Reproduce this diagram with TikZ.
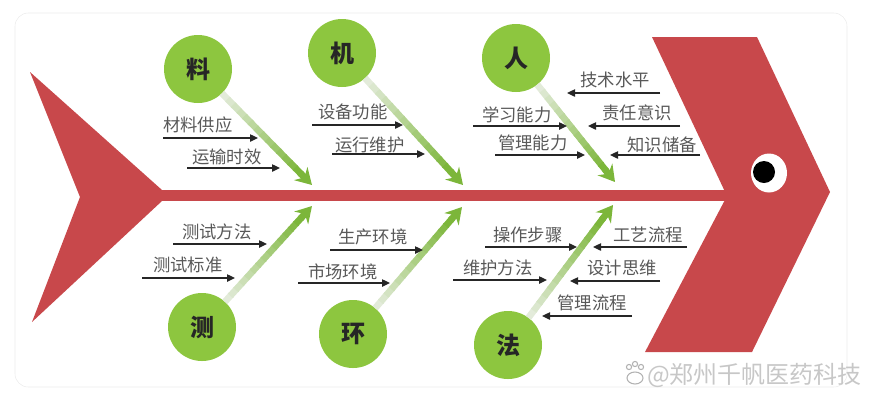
\documentclass[tikz,border=0pt]{standalone}
\usepackage{fontspec}
\setmainfont{Noto Sans CJK SC}
\usetikzlibrary{arrows.meta,calc}

\definecolor{fishred}{RGB}{200,72,75}
\definecolor{bonegreen}{RGB}{141,198,63}
\definecolor{arrowgreen}{RGB}{124,182,58}
\definecolor{palegreen}{RGB}{232,238,226}
\definecolor{lblgray}{RGB}{88,88,88}

\tikzset{
  bone/.style={circle, fill=bonegreen, minimum size=51pt, inner sep=0pt,
    font=\fontsize{18}{18}\selectfont\bfseries, text=black!85},
  lbl/.style={inner sep=0pt, font=\fontsize{13}{13}\selectfont, text=lblgray},
  sub/.style={draw=black!85, line width=1pt, -{Triangle[length=6pt,width=5.5pt]}},
}

% green bone arrow from a circle (#1) to a point on the spine (#2)
\newcommand{\bonearrow}[2]{%
  \coordinate (#1s) at ($(#1)!25.5pt!(#2)$);
  \foreach \k in {0,...,13}{
    \pgfmathsetmacro{\fa}{\k/16}
    \pgfmathsetmacro{\fb}{(\k+1.2)/16}
    \pgfmathtruncatemacro{\pc}{5+\k*95/13}
    \draw[line width=5pt, arrowgreen!\pc!palegreen] ($(#1s)!\fa!(#2)$) -- ($(#1s)!\fb!(#2)$);
  }
  \draw[line width=5pt, arrowgreen, -{Stealth[length=12pt,width=14pt,inset=4pt]}] ($(#1s)!0.87!(#2)$) -- (#2);
}

\begin{document}
\begin{tikzpicture}[x=0.75pt,y=0.75pt,yscale=-1,xscale=1]
\useasboundingbox (0,0) rectangle (873,405);

% frame
\draw[black!8, rounded corners=10pt] (15,13) rectangle (847,387);

% tail and spine
\fill[fishred] (30,72) -- (162,190) -- (162,201) -- (32,322) -- (80,197) -- cycle;
\fill[fishred] (150,190) rectangle (735,201);

% head
\fill[fishred] (652,37) -- (757,37) -- (830,192) -- (752,352) -- (645,352) -- (727,196) -- cycle;
\fill[white] (769,173) ellipse [x radius=18, y radius=19.5];
\fill[black] (764,172) circle [radius=11];

% bones
\node[bone] (liao) at (198,69) {料};
\node[bone] (ji) at (342,53) {机};
\node[bone] (ren) at (516,58) {人};
\node[bone] (ce) at (202,327) {测};
\node[bone] (huan) at (353,334) {环};
\node[bone] (fa) at (508,345) {法};

\coordinate (tliao) at (312,185);
\coordinate (tji) at (463,185);
\coordinate (tren) at (615,182);
\coordinate (tce) at (312,206);
\coordinate (thuan) at (462,207);
\coordinate (tfa) at (613,205);

\bonearrow{liao}{tliao}
\bonearrow{ji}{tji}
\bonearrow{ren}{tren}
\bonearrow{ce}{tce}
\bonearrow{huan}{thuan}
\bonearrow{fa}{tfa}

% causes of 料
\node[lbl, anchor=west] (cliao1) at (163,125) {材料供应};
\coordinate (cliao1a) at (163,138); \coordinate (cliao1b) at (258,138);
\draw[sub] (cliao1a) -- (cliao1b);
\node[lbl, anchor=west] (cliao2) at (192,157) {运输时效};
\coordinate (cliao2a) at (187,168); \coordinate (cliao2b) at (280,168);
\draw[sub] (cliao2a) -- (cliao2b);

% causes of 机
\node[lbl, anchor=west] (cji1) at (318,112) {设备功能};
\coordinate (cji1a) at (312,125); \coordinate (cji1b) at (403,125);
\draw[sub] (cji1a) -- (cji1b);
\node[lbl, anchor=west] (cji2) at (335,145) {运行维护};
\coordinate (cji2a) at (332,154); \coordinate (cji2b) at (425,154);
\draw[sub] (cji2a) -- (cji2b);

% causes of 人
\node[lbl, anchor=west] (cren1) at (482,115) {学习能力};
\coordinate (cren1a) at (473,126); \coordinate (cren1b) at (567,126);
\draw[sub] (cren1a) -- (cren1b);
\node[lbl, anchor=west] (cren2) at (498,143) {管理能力};
\coordinate (cren2a) at (495,155); \coordinate (cren2b) at (585,155);
\draw[sub] (cren2a) -- (cren2b);
\node[lbl, anchor=east] (cren3) at (650,80) {技术水平};
\coordinate (cren3a) at (660,93); \coordinate (cren3b) at (567,93);
\draw[sub] (cren3a) -- (cren3b);
\node[lbl, anchor=east] (cren4) at (672,113) {责任意识};
\coordinate (cren4a) at (680,126); \coordinate (cren4b) at (588,126);
\draw[sub] (cren4a) -- (cren4b);
\node[lbl, anchor=east] (cren5) at (697,145) {知识储备};
\coordinate (cren5a) at (700,155); \coordinate (cren5b) at (610,155);
\draw[sub] (cren5a) -- (cren5b);

% causes of 测
\node[lbl, anchor=west] (cce1) at (182,232) {测试方法};
\coordinate (cce1a) at (173,244); \coordinate (cce1b) at (267,244);
\draw[sub] (cce1a) -- (cce1b);
\node[lbl, anchor=west] (cce2) at (153,265) {测试标准};
\coordinate (cce2a) at (142,278); \coordinate (cce2b) at (235,278);
\draw[sub] (cce2a) -- (cce2b);

% causes of 环
\node[lbl, anchor=west] (chuan1) at (338,237) {生产环境};
\coordinate (chuan1a) at (330,250); \coordinate (chuan1b) at (423,250);
\draw[sub] (chuan1a) -- (chuan1b);
\node[lbl, anchor=west] (chuan2) at (308,272) {市场环境};
\coordinate (chuan2a) at (298,283); \coordinate (chuan2b) at (390,283);
\draw[sub] (chuan2a) -- (chuan2b);

% causes of 法
\node[lbl, anchor=west] (cfa1) at (493,235) {操作步骤};
\coordinate (cfa1a) at (485,247); \coordinate (cfa1b) at (577,247);
\draw[sub] (cfa1a) -- (cfa1b);
\node[lbl, anchor=west] (cfa2) at (463,268) {维护方法};
\coordinate (cfa2a) at (453,280); \coordinate (cfa2b) at (547,280);
\draw[sub] (cfa2a) -- (cfa2b);
\node[lbl, anchor=east] (cfa3) at (683,235) {工艺流程};
\coordinate (cfa3a) at (687,247); \coordinate (cfa3b) at (593,247);
\draw[sub] (cfa3a) -- (cfa3b);
\node[lbl, anchor=east] (cfa4) at (657,268) {设计思维};
\coordinate (cfa4a) at (660,281); \coordinate (cfa4b) at (570,281);
\draw[sub] (cfa4a) -- (cfa4b);
\node[lbl, anchor=east] (cfa5) at (627,303) {管理流程};
\coordinate (cfa5a) at (632,316); \coordinate (cfa5b) at (542,316);
\draw[sub] (cfa5a) -- (cfa5b);

% watermark
\draw[black!30, line width=0.8pt] (635,378) ellipse [x radius=8, y radius=6];
\draw[black!30, line width=0.8pt] (629,367) circle [radius=2.6] (635,364) circle [radius=2.6] (641,367) circle [radius=2.6];
\node[inner sep=0pt, anchor=west, text=black!22, font=\fontsize{18}{18}\selectfont] (mark) at (647,375) {@郑州千帆医药科技};

\end{tikzpicture}
\end{document}
